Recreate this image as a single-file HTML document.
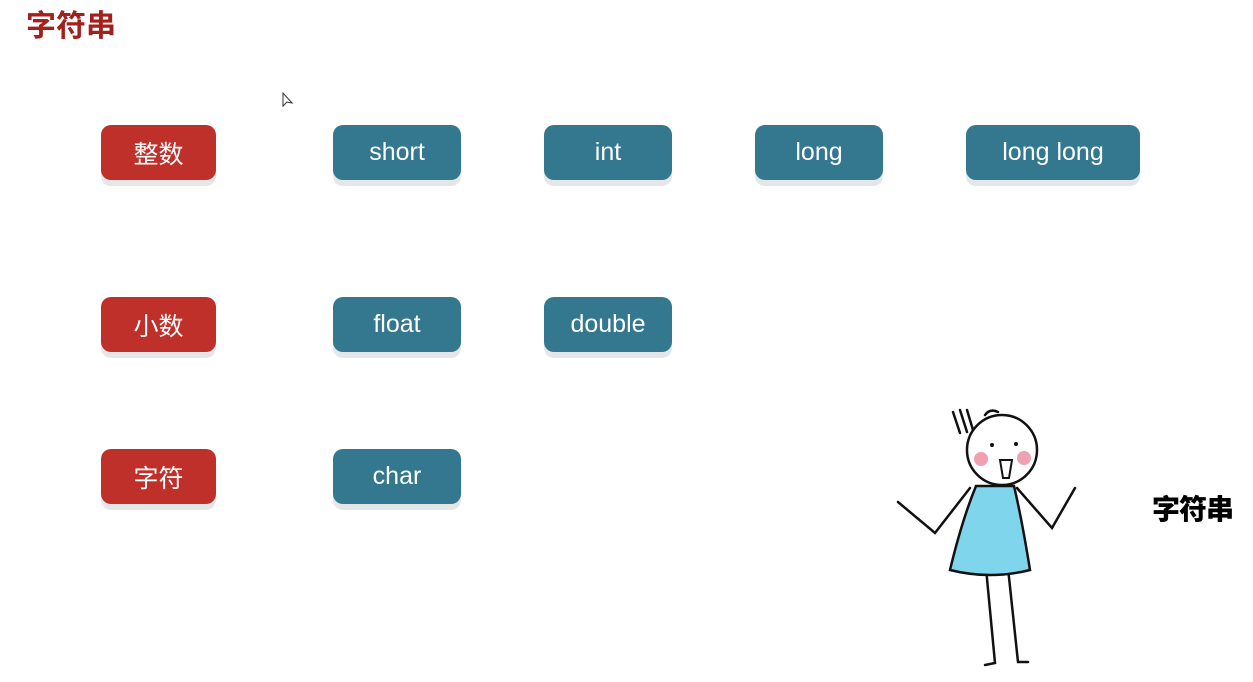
<!DOCTYPE html>
<html><head><meta charset="utf-8"><style>
body{margin:0;width:1253px;height:682px;background:#fff;position:relative;overflow:hidden;font-family:"Liberation Sans","Noto Sans CJK SC",sans-serif}
.t{position:absolute;left:26px;top:1px;font-size:30px;color:#a3211c;font-weight:700}
.b{position:absolute;height:55px;border-radius:10px;color:#fff;font-size:25px;display:flex;align-items:center;justify-content:center;box-shadow:0 6px 0 #e4e6e8}
.r{background:#c0302b}.g{background:#33788f}
</style></head><body>
<div class="t">字符串</div>
<div class="b r" style="left:101px;top:125px;width:115px">整数</div>
<div class="b g" style="left:333px;top:125px;width:128px">short</div>
<div class="b g" style="left:544px;top:125px;width:128px">int</div>
<div class="b g" style="left:755px;top:125px;width:128px">long</div>
<div class="b g" style="left:966px;top:125px;width:174px">long long</div>
<div class="b r" style="left:101px;top:297px;width:115px">小数</div>
<div class="b g" style="left:333px;top:297px;width:128px">float</div>
<div class="b g" style="left:544px;top:297px;width:128px">double</div>
<div class="b r" style="left:101px;top:449px;width:115px">字符</div>
<div class="b g" style="left:333px;top:449px;width:128px">char</div>
<svg style="position:absolute;left:0;top:0" width="1253" height="682">
<g fill="none" stroke="#111" stroke-width="2.5" stroke-linecap="round">
<path d="M970,488 L935,533 L898,502 M1017,488 L1052,528 L1075,488" />
<path d="M986,568 L995,663 L985,665 M1008,568 L1018,662 L1028,662"/>
<path d="M953,412 L960,433 M960,410 L967,432 M967,410 L973,430 M985,415 Q990,408 998,412"/>
</g>
<path d="M976,486 L1014,486 Q1022,520 1030,570 Q990,580 950,570 Q962,520 976,486Z" fill="#7fd5ec" stroke="#111" stroke-width="2.5"/>
<circle cx="1002" cy="450" r="35" fill="#fff" stroke="#111" stroke-width="2.5"/>
<circle cx="981" cy="459" r="7" fill="#f0a0b0"/><circle cx="1024" cy="458" r="7" fill="#f0a0b0"/>
<circle cx="992" cy="445" r="2" fill="#111"/><circle cx="1016" cy="444" r="2" fill="#111"/>
<path d="M1000,460 L1012,460 L1009,478 L1003,478Z" fill="#fff" stroke="#111" stroke-width="2"/>
<path d="M283,93 L283,106 L287,102 L292,103Z" fill="#fff" stroke="#333" stroke-width="1"/>
</svg>
<div style="position:absolute;left:1152px;top:488px;font-size:28px;font-weight:900;color:#000;letter-spacing:-1px">字符串</div>
</body></html>
